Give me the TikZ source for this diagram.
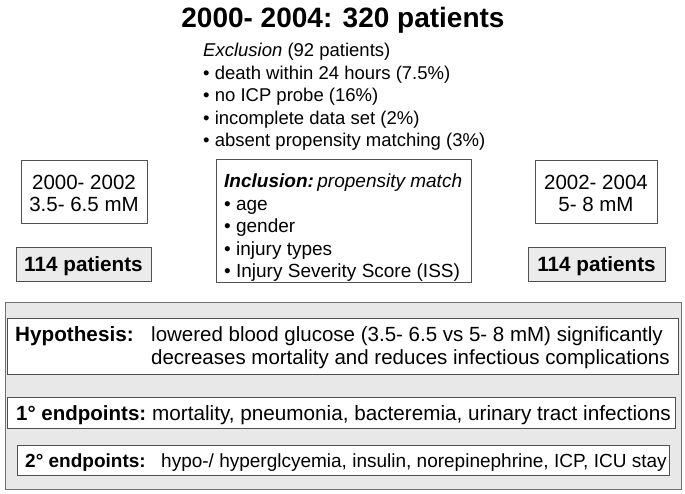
\documentclass[tikz,border=0pt]{standalone}
\usepackage{fontspec}
\setmainfont{Liberation Sans}
\definecolor{panelfill}{HTML}{E8E8E8}
\definecolor{panelline}{HTML}{707070}
\definecolor{boxline}{HTML}{505050}
\definecolor{patfill}{HTML}{EBEBEB}
\tikzset{
  fs/.style={font=\fontsize{#1}{#1}\selectfont},
  txt/.style={inner sep=0pt, anchor=base west},
  ctxt/.style={inner sep=0pt, anchor=base},
  whitebox/.style={draw=boxline, line width=0.9pt, fill=white},
  patbox/.style={draw=boxline, line width=0.9pt, fill=patfill},
  panel/.style={draw=panelline, line width=0.9pt, fill=panelfill},
}
\begin{document}
\begin{tikzpicture}[x=1pt,y=-1pt]
\useasboundingbox (0,0) rectangle (685,493);
% title
\node[ctxt, font=\bfseries\fontsize{28}{28}\selectfont] (title) at (343,27) {2000- 2004: 320 patients};
% exclusion
\node[txt, fs=18.5] (ex0) at (203,56) {\textit{Exclusion} (92 patients)};
\node[txt, fs=18.5] (ex1) at (203,79) {• death within 24 hours (7.5\%)};
\node[txt, fs=18.5] (ex2) at (203,101.5) {• no ICP probe (16\%)};
\node[txt, fs=18.5] (ex3) at (203,124) {• incomplete data set (2\%)};
\node[txt, fs=18.5] (ex4) at (203,146.5) {• absent propensity matching (3\%)};
% left group
\draw[whitebox] (21,160) rectangle (147,223);
\node[ctxt, fs=20.5] (l1) at (84,189) {2000- 2002};
\node[ctxt, fs=20.5] (l2) at (84,211.5) {3.5- 6.5 mM};
\draw[patbox] (16,247) rectangle (151,281);
\node[ctxt, font=\bfseries\fontsize{20.7}{20.7}\selectfont] (lp) at (83.5,271.5) {114 patients};
% right group
\draw[whitebox] (535,160) rectangle (657,223);
\node[ctxt, fs=20.5] (r1) at (596,189) {2002- 2004};
\node[ctxt, fs=20.5] (r2) at (596,211.5) {5- 8 mM};
\draw[patbox] (528,247) rectangle (665,281);
\node[ctxt, font=\bfseries\fontsize{20.7}{20.7}\selectfont] (rp) at (596.5,271.5) {114 patients};
% inclusion
\draw[whitebox] (216,159) rectangle (471,282);
\node[txt, fs=19] (in0) at (224,187) {\textbf{\textit{Inclusion:}}\hspace{3.5pt}\textit{propensity match}};
\node[txt, fs=19] (in1) at (224,210) {• age};
\node[txt, fs=19] (in2) at (224,232.5) {• gender};
\node[txt, fs=19] (in3) at (224,255) {• injury types};
\node[txt, fs=19] (in4) at (224,277) {• Injury Severity Score (ISS)};
% panel
\draw[panel] (5,302) rectangle (681,489);
\draw[whitebox] (7,318) rectangle (678,374);
\node[txt, font=\bfseries\fontsize{20.7}{20.7}\selectfont] (hyk) at (15,341.5) {Hypothesis:};
\node[txt, fs=20.5] (hy1) at (151,341.5) {lowered blood glucose (3.5- 6.5 vs 5- 8 mM) significantly};
\node[txt, fs=20.5] (hy2) at (151,364.5) {decreases mortality and reduces infectious complications};
\draw[whitebox] (7,397) rectangle (675,428);
\node[txt, font=\bfseries\fontsize{20.5}{20.5}\selectfont] (p1k) at (16,420) {1° endpoints:};
\node[txt, fs=20.7] (p1) at (152,420) {mortality, pneumonia, bacteremia, urinary tract infections};
\draw[whitebox] (17,445) rectangle (669,475);
\node[txt, font=\bfseries\fontsize{19}{19}\selectfont] (p2k) at (25,467) {2° endpoints:};
\node[txt, fs=19] (p2) at (161,467) {hypo-/ hyperglcyemia, insulin, norepinephrine, ICP, ICU stay};
\end{tikzpicture}
\end{document}
